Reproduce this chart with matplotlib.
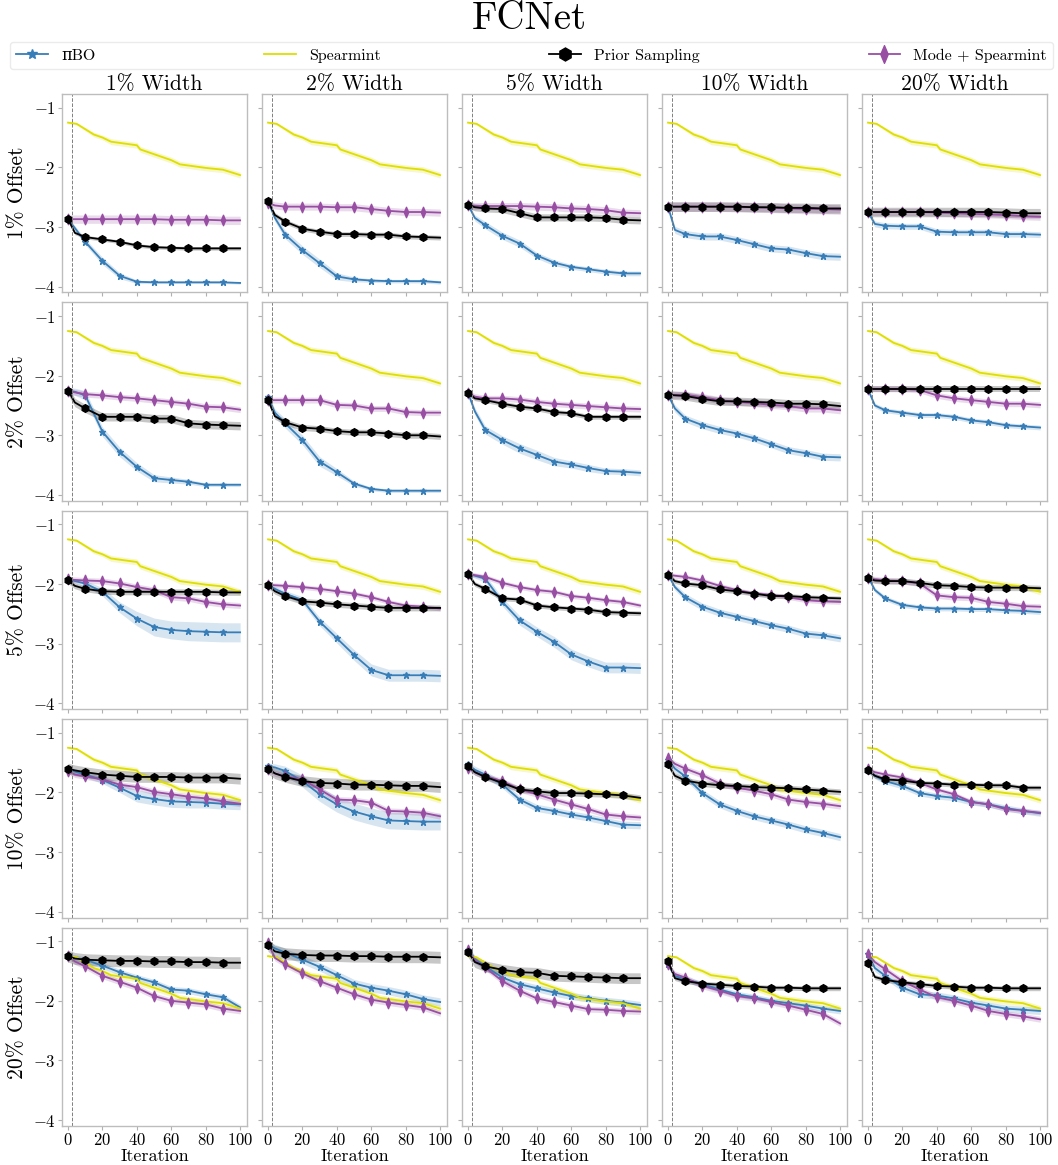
import numpy as np
import matplotlib
matplotlib.use("Agg")
from matplotlib import pyplot as plt
from matplotlib.path import Path

plt.rcParams["font.family"] = ["cmr10", "DejaVu Serif"]
plt.rcParams["mathtext.fontset"] = "cm"
plt.rcParams["axes.formatter.use_mathtext"] = True

# Підписи колонок і рядків
widths = ["1% Width", "2% Width", "5% Width", "10% Width", "20% Width"]
offsets = ["1% Offset", "2% Offset", "5% Offset", "10% Offset", "20% Offset"]

# Ітерації, в яких зчитані значення
iters = [0, 4, 10, 20, 30, 40, 50, 60, 70, 80, 90, 100]
mark_iters = [0, 10, 20, 30, 40, 50, 60, 70, 80, 90]

# Spearmint однаковий у всіх панелях
spear_iters = [0, 5, 10, 15, 20, 25, 30, 40, 42, 50, 60, 65, 70, 80, 90, 100]
spear_mean = [-1.25, -1.27, -1.36, -1.45, -1.50, -1.57, -1.59, -1.63, -1.70,
              -1.78, -1.88, -1.95, -1.97, -2.01, -2.04, -2.13]
spear_std = [0.02, 0.02, 0.03, 0.04, 0.04, 0.05, 0.05, 0.05, 0.05,
             0.05, 0.05, 0.05, 0.05, 0.05, 0.05, 0.05]

# piBO: [рядок][колонка] -> значення в iters
pibo_mean = [
    [[-2.87, -3.02, -3.25, -3.57, -3.82, -3.92, -3.93, -3.93, -3.93, -3.93, -3.93, -3.94],
     [-2.57, -2.85, -3.13, -3.39, -3.61, -3.83, -3.88, -3.90, -3.91, -3.91, -3.91, -3.93],
     [-2.63, -2.85, -2.97, -3.15, -3.28, -3.48, -3.60, -3.67, -3.71, -3.75, -3.78, -3.78],
     [-2.66, -3.05, -3.12, -3.16, -3.16, -3.22, -3.29, -3.36, -3.38, -3.44, -3.49, -3.50],
     [-2.75, -2.95, -2.98, -2.99, -2.99, -3.08, -3.09, -3.09, -3.09, -3.12, -3.12, -3.13]],
    [[-2.25, -2.27, -2.33, -2.94, -3.28, -3.53, -3.72, -3.75, -3.78, -3.83, -3.83, -3.83],
     [-2.35, -2.62, -2.80, -3.08, -3.44, -3.62, -3.81, -3.90, -3.93, -3.93, -3.93, -3.93],
     [-2.29, -2.60, -2.91, -3.08, -3.22, -3.33, -3.44, -3.49, -3.55, -3.60, -3.61, -3.63],
     [-2.32, -2.55, -2.72, -2.83, -2.91, -2.97, -3.05, -3.15, -3.25, -3.30, -3.36, -3.37],
     [-2.23, -2.50, -2.58, -2.62, -2.66, -2.66, -2.69, -2.75, -2.78, -2.83, -2.85, -2.87]],
    [[-1.92, -1.95, -1.99, -2.13, -2.39, -2.58, -2.72, -2.77, -2.79, -2.80, -2.81, -2.81],
     [-2.02, -2.08, -2.16, -2.27, -2.63, -2.91, -3.19, -3.44, -3.53, -3.53, -3.53, -3.54],
     [-1.83, -1.86, -1.91, -2.30, -2.61, -2.80, -2.97, -3.18, -3.30, -3.40, -3.40, -3.41],
     [-1.84, -2.05, -2.22, -2.38, -2.48, -2.55, -2.62, -2.69, -2.75, -2.83, -2.86, -2.91],
     [-1.88, -2.10, -2.24, -2.35, -2.39, -2.41, -2.41, -2.42, -2.42, -2.44, -2.45, -2.47]],
    [[-1.61, -1.65, -1.70, -1.79, -1.92, -2.06, -2.11, -2.15, -2.16, -2.17, -2.19, -2.20],
     [-1.56, -1.58, -1.64, -1.81, -2.03, -2.20, -2.32, -2.40, -2.47, -2.48, -2.49, -2.49],
     [-1.53, -1.62, -1.70, -1.87, -2.12, -2.26, -2.31, -2.37, -2.42, -2.48, -2.54, -2.55],
     [-1.45, -1.60, -1.73, -2.01, -2.20, -2.31, -2.40, -2.47, -2.54, -2.62, -2.68, -2.75],
     [-1.63, -1.72, -1.81, -1.89, -2.01, -2.06, -2.09, -2.16, -2.20, -2.26, -2.31, -2.35]],
    [[-1.25, -1.28, -1.31, -1.41, -1.52, -1.61, -1.69, -1.81, -1.83, -1.89, -1.94, -2.11],
     [-1.06, -1.12, -1.19, -1.31, -1.43, -1.57, -1.71, -1.78, -1.83, -1.89, -1.97, -2.02],
     [-1.14, -1.30, -1.42, -1.61, -1.72, -1.79, -1.86, -1.92, -1.96, -2.00, -2.03, -2.07],
     [-1.39, -1.58, -1.64, -1.72, -1.81, -1.89, -1.94, -2.00, -2.04, -2.08, -2.13, -2.17],
     [-1.22, -1.45, -1.58, -1.78, -1.89, -1.91, -1.96, -2.03, -2.08, -2.13, -2.15, -2.17]],
]
pibo_std = [
    [[0.03, 0.04, 0.05, 0.06, 0.05, 0.03, 0.02, 0.02, 0.02, 0.02, 0.02, 0.02],
     [0.03, 0.06, 0.07, 0.07, 0.07, 0.06, 0.04, 0.03, 0.03, 0.03, 0.03, 0.03],
     [0.03, 0.05, 0.06, 0.06, 0.06, 0.05, 0.05, 0.04, 0.04, 0.04, 0.04, 0.04],
     [0.04, 0.06, 0.06, 0.06, 0.06, 0.06, 0.06, 0.06, 0.06, 0.06, 0.06, 0.06],
     [0.04, 0.05, 0.05, 0.05, 0.05, 0.05, 0.05, 0.05, 0.05, 0.05, 0.05, 0.05]],
    [[0.05, 0.06, 0.08, 0.08, 0.08, 0.07, 0.06, 0.05, 0.04, 0.03, 0.03, 0.03],
     [0.05, 0.06, 0.08, 0.08, 0.08, 0.06, 0.04, 0.03, 0.03, 0.03, 0.03, 0.03],
     [0.04, 0.06, 0.07, 0.07, 0.08, 0.08, 0.07, 0.06, 0.06, 0.05, 0.05, 0.05],
     [0.04, 0.06, 0.06, 0.06, 0.06, 0.06, 0.06, 0.06, 0.06, 0.06, 0.06, 0.06],
     [0.03, 0.04, 0.04, 0.04, 0.04, 0.04, 0.04, 0.04, 0.04, 0.04, 0.04, 0.04]],
    [[0.03, 0.03, 0.05, 0.07, 0.09, 0.12, 0.15, 0.15, 0.16, 0.16, 0.16, 0.16],
     [0.03, 0.04, 0.05, 0.06, 0.07, 0.08, 0.09, 0.10, 0.10, 0.10, 0.10, 0.10],
     [0.03, 0.04, 0.06, 0.07, 0.08, 0.08, 0.09, 0.09, 0.09, 0.09, 0.09, 0.09],
     [0.03, 0.05, 0.06, 0.06, 0.06, 0.06, 0.06, 0.06, 0.06, 0.06, 0.06, 0.06],
     [0.03, 0.04, 0.04, 0.04, 0.04, 0.04, 0.04, 0.04, 0.04, 0.04, 0.04, 0.04]],
    [[0.04, 0.05, 0.05, 0.06, 0.08, 0.10, 0.10, 0.10, 0.10, 0.09, 0.09, 0.09],
     [0.05, 0.06, 0.08, 0.10, 0.12, 0.13, 0.14, 0.14, 0.14, 0.14, 0.14, 0.14],
     [0.05, 0.06, 0.06, 0.06, 0.06, 0.06, 0.06, 0.06, 0.06, 0.06, 0.06, 0.06],
     [0.05, 0.06, 0.06, 0.06, 0.06, 0.06, 0.06, 0.06, 0.06, 0.06, 0.06, 0.06],
     [0.04, 0.05, 0.05, 0.05, 0.05, 0.05, 0.05, 0.05, 0.05, 0.05, 0.05, 0.05]],
    [[0.04, 0.05, 0.05, 0.05, 0.05, 0.05, 0.05, 0.05, 0.05, 0.05, 0.05, 0.05],
     [0.06, 0.07, 0.07, 0.07, 0.07, 0.07, 0.07, 0.07, 0.07, 0.07, 0.07, 0.07],
     [0.06, 0.06, 0.06, 0.06, 0.06, 0.06, 0.06, 0.06, 0.06, 0.06, 0.06, 0.06],
     [0.05, 0.05, 0.05, 0.05, 0.05, 0.05, 0.05, 0.05, 0.05, 0.05, 0.05, 0.05],
     [0.06, 0.06, 0.06, 0.06, 0.06, 0.06, 0.06, 0.06, 0.06, 0.06, 0.06, 0.06]],
]

# Prior Sampling
prior_mean = [
    [[-2.87, -3.10, -3.17, -3.21, -3.25, -3.31, -3.34, -3.35, -3.36, -3.36, -3.36, -3.36],
     [-2.57, -2.80, -2.91, -3.03, -3.08, -3.12, -3.12, -3.13, -3.13, -3.16, -3.17, -3.18],
     [-2.63, -2.67, -2.69, -2.70, -2.77, -2.84, -2.84, -2.84, -2.84, -2.85, -2.88, -2.89],
     [-2.66, -2.66, -2.66, -2.66, -2.66, -2.66, -2.67, -2.67, -2.68, -2.68, -2.69, -2.69],
     [-2.75, -2.75, -2.75, -2.75, -2.75, -2.75, -2.75, -2.75, -2.75, -2.76, -2.77, -2.77]],
    [[-2.25, -2.45, -2.55, -2.69, -2.69, -2.69, -2.72, -2.72, -2.80, -2.82, -2.83, -2.84],
     [-2.41, -2.68, -2.78, -2.87, -2.89, -2.93, -2.95, -2.95, -2.97, -3.00, -3.00, -3.02],
     [-2.29, -2.38, -2.41, -2.47, -2.52, -2.55, -2.61, -2.63, -2.69, -2.69, -2.69, -2.69],
     [-2.32, -2.33, -2.34, -2.39, -2.43, -2.43, -2.44, -2.45, -2.47, -2.47, -2.48, -2.51],
     [-2.22, -2.22, -2.22, -2.22, -2.22, -2.22, -2.22, -2.22, -2.22, -2.22, -2.22, -2.22]],
    [[-1.94, -2.03, -2.08, -2.12, -2.13, -2.13, -2.13, -2.13, -2.13, -2.13, -2.14, -2.14],
     [-2.02, -2.12, -2.20, -2.29, -2.31, -2.34, -2.36, -2.38, -2.40, -2.40, -2.40, -2.40],
     [-1.83, -2.00, -2.08, -2.24, -2.26, -2.36, -2.39, -2.41, -2.43, -2.47, -2.48, -2.49],
     [-1.84, -1.95, -1.99, -2.02, -2.09, -2.12, -2.16, -2.20, -2.20, -2.22, -2.23, -2.24],
     [-1.90, -1.94, -1.95, -1.95, -1.98, -2.02, -2.03, -2.05, -2.06, -2.06, -2.06, -2.07]],
    [[-1.60, -1.63, -1.66, -1.70, -1.72, -1.74, -1.74, -1.74, -1.75, -1.75, -1.75, -1.77],
     [-1.60, -1.68, -1.74, -1.81, -1.84, -1.85, -1.87, -1.87, -1.88, -1.89, -1.89, -1.91],
     [-1.56, -1.66, -1.74, -1.84, -1.95, -1.98, -2.01, -2.01, -2.02, -2.03, -2.05, -2.09],
     [-1.53, -1.72, -1.80, -1.85, -1.88, -1.89, -1.91, -1.92, -1.93, -1.95, -1.97, -1.99],
     [-1.63, -1.72, -1.78, -1.80, -1.84, -1.85, -1.87, -1.87, -1.88, -1.88, -1.92, -1.92]],
    [[-1.25, -1.29, -1.31, -1.32, -1.33, -1.33, -1.34, -1.34, -1.35, -1.35, -1.36, -1.36],
     [-1.07, -1.17, -1.21, -1.23, -1.24, -1.24, -1.25, -1.25, -1.26, -1.26, -1.26, -1.27],
     [-1.18, -1.35, -1.42, -1.48, -1.52, -1.53, -1.58, -1.59, -1.60, -1.61, -1.62, -1.62],
     [-1.33, -1.62, -1.67, -1.71, -1.73, -1.75, -1.76, -1.78, -1.78, -1.79, -1.79, -1.79],
     [-1.36, -1.60, -1.65, -1.69, -1.72, -1.75, -1.76, -1.78, -1.78, -1.79, -1.79, -1.79]],
]
prior_std = [
    [0.03, 0.04, 0.06, 0.08, 0.08],
    [0.07, 0.05, 0.04, 0.07, 0.05],
    [0.05, 0.05, 0.04, 0.04, 0.05],
    [0.09, 0.09, 0.05, 0.05, 0.04],
    [0.10, 0.10, 0.09, 0.04, 0.04],
]

# Mode + Spearmint
mode_mean = [
    [[-2.87, -2.87, -2.87, -2.87, -2.87, -2.87, -2.87, -2.88, -2.88, -2.88, -2.89, -2.89],
     [-2.60, -2.64, -2.66, -2.66, -2.66, -2.67, -2.67, -2.70, -2.73, -2.75, -2.75, -2.76],
     [-2.63, -2.65, -2.65, -2.65, -2.65, -2.66, -2.67, -2.69, -2.70, -2.72, -2.76, -2.77],
     [-2.66, -2.66, -2.66, -2.66, -2.66, -2.67, -2.67, -2.68, -2.69, -2.70, -2.70, -2.71],
     [-2.75, -2.75, -2.75, -2.75, -2.75, -2.76, -2.77, -2.78, -2.79, -2.80, -2.82, -2.83]],
    [[-2.25, -2.28, -2.31, -2.33, -2.36, -2.38, -2.41, -2.44, -2.47, -2.52, -2.53, -2.57],
     [-2.41, -2.41, -2.41, -2.41, -2.41, -2.49, -2.50, -2.55, -2.55, -2.61, -2.62, -2.62],
     [-2.29, -2.35, -2.38, -2.38, -2.40, -2.44, -2.47, -2.49, -2.51, -2.53, -2.55, -2.56],
     [-2.32, -2.32, -2.32, -2.36, -2.41, -2.44, -2.46, -2.49, -2.51, -2.55, -2.55, -2.58],
     [-2.22, -2.22, -2.22, -2.22, -2.24, -2.33, -2.38, -2.41, -2.44, -2.47, -2.47, -2.49]],
    [[-1.92, -1.93, -1.94, -1.95, -1.99, -2.05, -2.10, -2.22, -2.24, -2.30, -2.34, -2.36],
     [-2.01, -2.02, -2.03, -2.05, -2.08, -2.12, -2.16, -2.22, -2.30, -2.36, -2.38, -2.41],
     [-1.83, -1.85, -1.88, -1.98, -2.05, -2.10, -2.13, -2.20, -2.23, -2.27, -2.30, -2.36],
     [-1.84, -1.86, -1.88, -1.94, -2.03, -2.10, -2.16, -2.18, -2.22, -2.27, -2.29, -2.30],
     [-1.90, -1.92, -1.94, -1.95, -1.99, -2.19, -2.22, -2.23, -2.30, -2.33, -2.37, -2.38]],
    [[-1.64, -1.70, -1.73, -1.78, -1.87, -1.91, -1.99, -2.03, -2.07, -2.10, -2.15, -2.19],
     [-1.61, -1.68, -1.73, -1.78, -1.95, -2.12, -2.13, -2.17, -2.31, -2.32, -2.34, -2.40],
     [-1.59, -1.66, -1.73, -1.81, -1.95, -2.03, -2.12, -2.20, -2.28, -2.37, -2.40, -2.42],
     [-1.42, -1.52, -1.60, -1.71, -1.85, -1.92, -1.97, -2.03, -2.12, -2.16, -2.19, -2.23],
     [-1.61, -1.66, -1.70, -1.75, -1.84, -1.95, -2.03, -2.16, -2.20, -2.28, -2.31, -2.34]],
    [[-1.25, -1.34, -1.42, -1.58, -1.68, -1.78, -1.92, -2.00, -2.03, -2.06, -2.13, -2.17],
     [-1.03, -1.28, -1.39, -1.54, -1.67, -1.78, -1.89, -1.98, -2.03, -2.07, -2.11, -2.21],
     [-1.14, -1.32, -1.44, -1.67, -1.83, -1.96, -2.02, -2.08, -2.14, -2.15, -2.17, -2.18],
     [-1.39, -1.55, -1.61, -1.75, -1.83, -1.92, -1.96, -2.02, -2.08, -2.15, -2.22, -2.38],
     [-1.22, -1.35, -1.47, -1.67, -1.81, -1.94, -2.00, -2.08, -2.17, -2.22, -2.26, -2.31]],
]
mode_std = [
    [0.07, 0.06, 0.06, 0.08, 0.06],
    [0.05, 0.05, 0.05, 0.06, 0.05],
    [0.05, 0.04, 0.04, 0.04, 0.05],
    [0.05, 0.05, 0.05, 0.05, 0.04],
    [0.05, 0.05, 0.05, 0.05, 0.05],
]

c_pibo = "#377eb8"
c_spear = "#dede00"
c_prior = "black"
c_mode = "#984ea3"

# тонкий ромб для Mode + Spearmint
thin_diamond = Path([(0, -1), (0.42, 0), (0, 1), (-0.42, 0), (0, -1)],
                    [Path.MOVETO, Path.LINETO, Path.LINETO, Path.LINETO, Path.CLOSEPOLY])

x = np.array(iters)
marks = [iters.index(m) for m in mark_iters]

fig, axes = plt.subplots(5, 5, figsize=(10.58, 11.65), dpi=100, sharex=True, sharey=True)
fig.subplots_adjust(left=0.0586, right=0.9896, top=0.9193, bottom=0.0335,
                    wspace=0.081, hspace=0.05)

for r in range(5):
    for c in range(5):
        ax = axes[r, c]

        # piBO
        m = np.array(pibo_mean[r][c])
        s = np.array(pibo_std[r][c])
        ax.fill_between(x, m - s, m + s, color=c_pibo, alpha=0.2, lw=0)
        h_pibo, = ax.plot(x, m, color=c_pibo, lw=1.3, marker="*", ms=4.5,
                          markevery=marks, label="πBO")

        # Spearmint
        m = np.array(spear_mean)
        s = np.array(spear_std)
        ax.fill_between(spear_iters, m - s, m + s, color=c_spear, alpha=0.22, lw=0)
        h_spear, = ax.plot(spear_iters, m, color=c_spear, lw=1.3, label="Spearmint")

        # Mode + Spearmint
        m = np.array(mode_mean[r][c])
        s = mode_std[r][c]
        ax.fill_between(x, m - s, m + s, color=c_mode, alpha=0.2, lw=0)
        h_mode, = ax.plot(x, m, color=c_mode, lw=1.3, marker=thin_diamond, ms=7.5,
                          markevery=marks, label="Mode + Spearmint")

        # Prior Sampling
        m = np.array(prior_mean[r][c])
        s = prior_std[r][c]
        ax.fill_between(x, m - s, m + s, color="black", alpha=0.22, lw=0)
        h_prior, = ax.plot(x, m, color=c_prior, lw=1.3, marker="h", ms=5.5,
                           markevery=marks, label="Prior Sampling")

        ax.axvline(2.5, color="gray", ls="--", lw=0.7)

        ax.set_xlim(-3.5, 104)
        ax.set_ylim(-4.1, -0.77)
        ax.set_xticks([0, 20, 40, 60, 80, 100])
        ax.set_yticks([-4, -3, -2, -1])
        ax.tick_params(direction="out", length=3, width=0.8, color="#b0b0b0",
                       labelsize=12, pad=1.5)
        for sp in ax.spines.values():
            sp.set_color("#bdbdbd")
            sp.set_linewidth(1.0)

        if r == 0:
            ax.set_title(widths[c], fontsize=15.5, pad=3)
        if c == 0:
            ax.set_ylabel(offsets[r], fontsize=15.5, labelpad=4)
        if r == 4:
            ax.set_xlabel("Iteration", fontsize=13, labelpad=0)

fig.text(0.5, 0.9837, "FCNet", ha="center", va="center", fontsize=28)

fig.legend([h_pibo, h_spear, h_prior, h_mode],
           ["πBO", "Spearmint", "Prior Sampling", "Mode + Spearmint"],
           loc="center", bbox_to_anchor=(0.0095, 0.9416, 0.986, 0.0215),
           mode="expand", ncol=4, fontsize=11.5, markerscale=1.7,
           frameon=True, edgecolor="#e6e6e6", fancybox=True, borderaxespad=0,
           handlelength=2.0, borderpad=0.4)

fig.savefig("out.png", dpi=100)
